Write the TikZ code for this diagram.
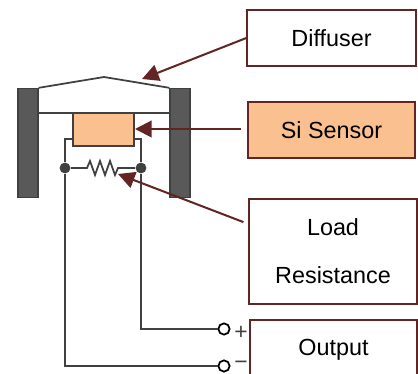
\documentclass[tikz,border=0pt]{standalone}
\usepackage{fontspec}
\setmainfont{Liberation Sans}
\usetikzlibrary{
    arrows.meta,
    calc
}
\definecolor{arrowred}{HTML}{632523}
\definecolor{sensororange}{HTML}{FAC090}
\definecolor{wiregrey}{HTML}{404040}
\definecolor{bargrey}{HTML}{595959}
\tikzset{
    labelbox/.style={draw=arrowred, line width=1.15pt, inner sep=0pt, align=center,
        font=\fontsize{13.3}{27.2}\selectfont},
    bar/.style={draw=wiregrey, fill=bargrey, line width=0.8pt, minimum width=11.3pt, minimum height=62pt, inner sep=0pt},
    wire/.style={draw=wiregrey, line width=1pt},
    pointer/.style={draw=arrowred, line width=1.15pt, -{Triangle[length=9.5pt, width=9.5pt]}},
    junction/.style={circle, fill=wiregrey, minimum size=6.2pt, inner sep=0pt},
    terminal/.style={circle, draw=black, line width=1pt, fill=white, minimum size=6.4pt, inner sep=0pt},
    sign/.style={inner sep=0pt, text=wiregrey, font=\fontsize{13}{13}\selectfont}
}
\begin{document}
\begin{tikzpicture}[x=0.02cm, y=-0.02cm]
    \useasboundingbox (0, 0) rectangle (418, 374);
    % housing
    \node[bar] (leftbar) at (28, 143) {};
    \node[bar] (rightbar) at (180, 143) {};
    \draw[wire] (leftbar.north east) -- (104, 77) coordinate (apex) -- (rightbar.north west);
    \draw[wire] (38, 113) coordinate (shelfleft) -- (170, 113) coordinate (shelfright);
    % sensor and load
    \node[draw=wiregrey, fill=sensororange, line width=1pt, minimum width=34.6pt, minimum height=18.7pt, inner sep=0pt] (sensor) at (103.5, 129.5) {};
    \node[junction] (juncleft) at (65, 168) {};
    \node[junction] (juncright) at (141, 168) {};
    \node[terminal] (termplus) at (224, 329) {};
    \node[terminal] (termminus) at (224, 366) {};
    \node[sign] (plus) at (241, 333) {+};
    \node[sign] (minus) at (241, 365) {−};
    \draw[wire] (73, 139) -| (juncleft) |- (termminus);
    \draw[wire] (134, 139) -| (juncright) |- (termplus);
    \draw[wire] (juncleft) -- (87, 168) -- (90, 161) -- (95, 175) -- (100, 161) -- (105, 175) -- (110, 161) -- (115, 175) -- (118, 168) -- (juncright);
    % labels
    \node[labelbox, minimum width=95.8pt, minimum height=31.7pt] (diffuser) at (331.5, 38) {Diffuser};
    \node[labelbox, fill=sensororange, minimum width=94.7pt, minimum height=31.7pt] (sisensor) at (331.5, 130) {Si Sensor};
    \node[labelbox, minimum width=95.2pt, minimum height=59.5pt] (load) at (333, 251.5) {Load\\Resistance};
    \node[labelbox, minimum width=94.7pt, minimum height=34pt] (output) at (333.5, 350) {Output};
    % pointers
    \coordinate (diffusertip) at (142, 79);
    \coordinate (sensortip) at (135, 129);
    \coordinate (loadtip) at (118, 174);
    \draw[pointer] (diffuser.west) -- (diffusertip);
    \draw[pointer, shorten <=3.5pt] (sisensor.west |- sensortip) -- (sensortip);
    \draw[pointer, shorten <=3pt] (load.west |- 0, 224) -- (loadtip);
\end{tikzpicture}
\end{document}
